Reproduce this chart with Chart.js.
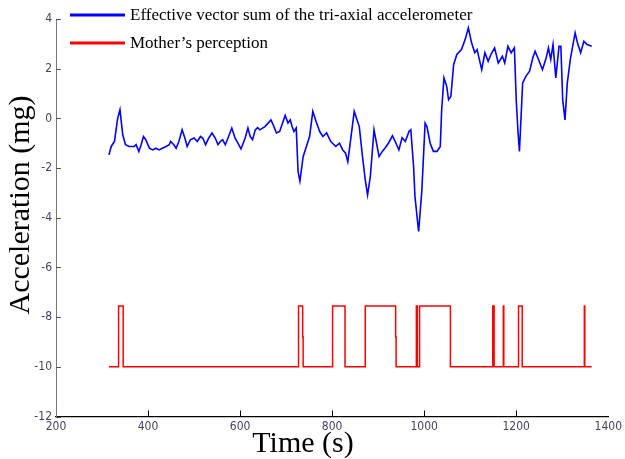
<!DOCTYPE html>
<html>
<head>
<meta charset="utf-8">
<script src="https://cdn.jsdelivr.net/npm/chart.js@4.4.1/dist/chart.umd.min.js"></script>
<style>
  html, body { margin: 0; padding: 0; background: #fff; }
  #wrap { width: 625px; height: 459px; }
</style>
</head>
<body>
<div id="wrap"><canvas id="accChart" width="625" height="459"></canvas></div>
<script>
// effective vector sum of the tri-axial accelerometer (blue)
const accelTime = [315,320,327,334,339,345,351,359,370,374,380,385,390,395,403,410,417,424,431,439,
  446,449,456,461,467,474,480,485,492,500,507,514,519,525,532,539,546,552,557,562,568,575,582,589,
  597,602,611,617,622,627,633,638,643,648,654,661,667,672,679,686,691,698,704,709,713,717,722,726,
  730,737,743,751,758,765,773,780,788,797,808,816,823,829,834,837,848,859,866,872,877,883,891,902,
  909,915,923,931,937,945,952,959,967,971,977,980,986,988,995,1002,1006,1013,1020,1028,1035,1038,
  1043,1049,1053,1058,1064,1071,1081,1089,1096,1103,1110,1115,1125,1132,1139,1145,1153,1161,1170,
  1175,1182,1189,1196,1200,1204,1207,1214,1221,1229,1236,1241,1250,1257,1265,1270,1275,1280,1286,
  1293,1297,1301,1306,1311,1318,1328,1333,1340,1347,1354,1364];
const accelValue = [-1.47,-1.13,-0.93,0.0,0.35,-0.66,-1.06,-1.13,-1.13,-1.06,-1.33,-1.06,-0.73,-0.86,
  -1.2,-1.27,-1.2,-1.27,-1.2,-1.13,-1.06,-0.93,-1.06,-1.2,-0.93,-0.46,-0.79,-1.13,-0.86,-0.79,-0.93,
  -0.73,-0.8,-1.06,-0.79,-0.59,-0.79,-1.06,-0.93,-0.86,-1.06,-0.73,-0.39,-0.79,-1.06,-1.23,-0.79,
  -0.39,-0.73,-0.86,-0.46,-0.37,-0.46,-0.4,-0.33,-0.19,-0.06,-0.26,-0.59,-0.53,-0.26,0.12,-0.19,
  -0.06,-0.33,-0.53,-0.39,-2.14,-2.52,-1.54,-1.19,-0.73,0.28,-0.12,-0.53,-0.73,-0.58,-0.93,-1.13,
  -1.0,-1.27,-1.39,-1.74,-1.33,0.28,-0.33,-1.54,-2.48,-3.08,-2.34,-0.46,-1.54,-1.33,-1.19,-0.98,
  -0.7,-0.93,-1.27,-0.78,-0.93,-0.53,-0.46,-1.94,-3.15,-4.22,-4.55,-2.88,-0.19,-0.33,-1.0,-1.33,
  -1.33,-1.13,0.35,1.63,1.29,0.75,0.88,2.16,2.57,2.77,3.17,3.64,3.04,2.64,2.77,1.96,2.64,2.3,2.57,
  2.84,2.23,2.5,2.23,2.9,2.64,2.84,0.75,-0.59,-1.33,1.43,1.69,1.9,2.43,2.7,2.3,1.96,2.43,2.84,2.37,
  2.97,1.63,2.9,2.9,0.75,-0.06,1.43,2.43,3.44,3.04,2.64,3.1,2.97,2.9];

// mother's perception (red), value holds from each time on
const perceptionTime = [315,336,346,727,736,737,801,828,872,938,939,983,985,990,1057,1149,1152,
  1172,1173,1205,1213,1348,1349,1364];
const perceptionValue = [-10,-7.55,-10,-7.55,-8.8,-10,-7.55,-10,-7.55,-8.8,-10,-7.55,-10,-7.55,-10,
  -7.55,-10,-7.55,-10,-7.55,-10,-7.55,-10,-10];

const xTicks = [200, 400, 600, 800, 1000, 1200, 1400];
const yTicks = [-12, -10, -8, -6, -4, -2, 0, 2, 4];

const seriesLabels = ['Effective vector sum of the tri-axial accelerometer', 'Mother\u2019s perception'];
const xTitle = 'Time (s)';
const yTitle = 'Acceleration (mg)';

const tickFont = { family: "'Liberation Sans Narrow', 'DejaVu Sans Condensed', 'Roboto Condensed', 'Liberation Sans', Arial, sans-serif", size: 12 };
const tickColor = '#4a4060';

const toPoints = (xs, ys) => xs.map((x, i) => ({ x: x, y: ys[i] }));

// inward tick marks like the matlab figure
const tickMarks = {
  id: 'tickMarks',
  afterDatasetsDraw(chart) {
    const { ctx, scales: { x, y }, chartArea } = chart;
    ctx.save();
    ctx.lineWidth = 1;
    ctx.strokeStyle = '#555';
    yTicks.forEach(v => {
      const py = Math.round(y.getPixelForValue(v)) + 0.5;
      ctx.beginPath();
      ctx.moveTo(chartArea.left, py);
      ctx.lineTo(chartArea.left + 5, py);
      ctx.stroke();
    });
    ctx.strokeStyle = '#000';
    xTicks.slice(1, -1).forEach(v => {
      const px = Math.round(x.getPixelForValue(v)) + 0.5;
      ctx.beginPath();
      ctx.moveTo(px, chartArea.bottom);
      ctx.lineTo(px, chartArea.bottom - 6);
      ctx.stroke();
    });
    ctx.restore();
  }
};

// legend inside the top-left corner, no box
const innerLegend = {
  id: 'innerLegend',
  afterDraw(chart) {
    const ctx = chart.ctx;
    ctx.save();
    ctx.font = "17px 'Liberation Serif', 'Times New Roman', serif";
    ctx.textBaseline = 'middle';
    ctx.fillStyle = '#000';
    chart.data.datasets.forEach((ds, i) => {
      const ly = 15 + i * 28;
      ctx.strokeStyle = ds.borderColor;
      ctx.lineWidth = 3;
      ctx.beginPath();
      ctx.moveTo(70, ly);
      ctx.lineTo(125, ly);
      ctx.stroke();
      ctx.fillText(ds.label, 130, ly + 1);
    });
    ctx.restore();
  }
};

// axis titles in serif, placed like the original
const axisTitles = {
  id: 'axisTitles',
  afterDraw(chart) {
    const ctx = chart.ctx;
    ctx.save();
    ctx.font = "30px 'Liberation Serif', 'Times New Roman', serif";
    ctx.fillStyle = '#000';
    ctx.textAlign = 'center';
    ctx.textBaseline = 'alphabetic';
    ctx.fillText(xTitle, 303, 452);
    ctx.translate(29, 205);
    ctx.rotate(-Math.PI / 2);
    ctx.fillText(yTitle, 0, 0);
    ctx.restore();
  }
};

new Chart(document.getElementById('accChart'), {
  type: 'line',
  data: {
    datasets: [
      {
        label: seriesLabels[0],
        data: toPoints(accelTime, accelValue),
        borderColor: '#0000ff',
        borderWidth: 1.6,
        pointRadius: 0,
        tension: 0,
        fill: false
      },
      {
        label: seriesLabels[1],
        data: toPoints(perceptionTime, perceptionValue),
        borderColor: '#ff0000',
        borderWidth: 1.5,
        pointRadius: 0,
        stepped: true,
        fill: false
      }
    ]
  },
  options: {
    responsive: false,
    devicePixelRatio: 1,
    animation: false,
    layout: { padding: { top: 19, right: 12, left: 0, bottom: 0 } },
    plugins: {
      legend: { display: false },
      tooltip: { enabled: false }
    },
    scales: {
      x: {
        type: 'linear',
        min: 200,
        max: 1400,
        afterBuildTicks: scale => { scale.ticks = xTicks.map(v => ({ value: v })); },
        afterFit: scale => { scale.height = 42.5; },
        grid: { display: false, drawTicks: false },
        border: { display: true, color: '#000', width: 1.2 },
        ticks: { font: tickFont, color: tickColor, padding: 3, maxRotation: 0, callback: v => String(v) }
      },
      y: {
        min: -12,
        max: 4,
        afterBuildTicks: scale => { scale.ticks = yTicks.map(v => ({ value: v })); },
        afterFit: scale => { scale.width = 56; },
        grid: { display: false, drawTicks: false },
        border: { display: true, color: '#777', width: 1 },
        ticks: { font: tickFont, color: tickColor, padding: 4, callback: v => String(v) }
      }
    }
  },
  plugins: [tickMarks, innerLegend, axisTitles]
});
</script>
</body>
</html>
